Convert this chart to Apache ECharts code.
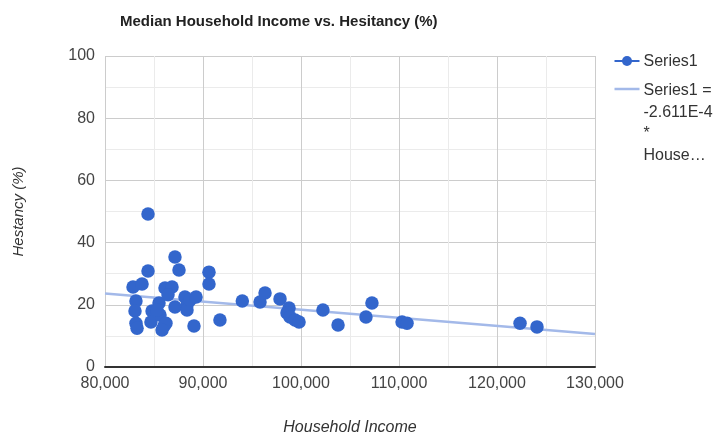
<!DOCTYPE html>
<html>
<head>
<meta charset="utf-8">
<script src="https://cdn.jsdelivr.net/npm/echarts@6/dist/echarts.min.js"></script>
<style>
  html, body { margin: 0; padding: 0; background: #fff; }
  #chart { width: 726px; height: 436px; }
</style>
</head>
<body>
<div id="chart"></div>
<script>
// Median household income (USD) per county
const incomes = [
  82860, 83780, 83160, 83060, 83160, 83270, 84390, 84390, 84800, 84690,
  85510, 85610, 86020, 86220, 85820, 86120, 86840, 86430, 87140, 87550,
  87140, 88160, 88370, 88370, 88670, 89080, 89290, 90610, 90610, 91730,
  94010, 95820, 96330, 97860, 98780, 98570, 98880, 99390, 99800, 102240,
  103780, 106630, 107240, 110310, 110820, 122350, 124080, 85310
];
// Vaccine hesitancy (%) for the same counties
const hesitancy = [
  25.7, 26.7, 21.2, 18.0, 14.1, 12.5, 49.2, 30.9, 18.0, 14.5,
  20.6, 16.7, 13.2, 14.1, 11.9, 25.4, 25.7, 23.2, 35.4, 31.2,
  19.3, 22.5, 19.9, 18.3, 21.5, 13.2, 22.5, 30.5, 26.7, 15.1,
  21.2, 20.9, 23.8, 21.9, 19.0, 17.4, 16.1, 15.1, 14.5, 18.3,
  13.5, 16.1, 20.6, 14.5, 14.1, 14.1, 12.9, 18.3
];
// Linear trendline end points (income, hesitancy)
const trendIncome = [80000, 130000];
const trendHesitancy = [23.6, 10.6];

const xTicks = [80000, 90000, 100000, 110000, 120000, 130000];
const yTicks = [0, 20, 40, 60, 80, 100];

const seriesName = 'Series1';
const trendLines = ['Series1 =', '-2.611E-4', '*', 'House\u2026'];

const points = incomes.map((x, i) => [x, hesitancy[i]]);
const trend = trendIncome.map((x, i) => [x, trendHesitancy[i]]);

const dotColor = '#3366cc';
const trendColor = '#a3b9e9';
const font = '"Liberation Sans", Arial, sans-serif';

const chart = echarts.init(document.getElementById('chart'), null, { renderer: 'canvas' });

chart.setOption({
  animation: false,
  backgroundColor: '#ffffff',
  title: {
    text: 'Median Household Income vs. Hesitancy (%)',
    left: 115,
    top: 9,
    textStyle: { fontFamily: font, fontSize: 15, fontWeight: 'bold', color: '#222' }
  },
  grid: { left: 105, right: 131, top: 56, bottom: 69, containLabel: false, outerBoundsMode: 'none' },
  xAxis: {
    type: 'value',
    min: xTicks[0],
    max: xTicks[xTicks.length - 1],
    interval: 10000,
    name: 'Household Income',
    nameLocation: 'middle',
    nameGap: 53,
    nameTextStyle: { fontFamily: font, fontSize: 16, fontStyle: 'italic', color: '#333' },
    axisLine: { show: true, onZero: false, lineStyle: { color: '#333', width: 2 } },
    axisTick: { show: false },
    axisLabel: {
      fontFamily: font, fontSize: 16, color: '#444', margin: 9,
      formatter: v => v.toLocaleString('en-US')
    },
    splitLine: { show: true, lineStyle: { color: '#cccccc', width: 1 } },
    minorTick: { show: false, splitNumber: 2 },
    minorSplitLine: { show: true, lineStyle: { color: '#ebebeb', width: 1 } }
  },
  yAxis: {
    type: 'value',
    min: yTicks[0],
    max: yTicks[yTicks.length - 1],
    interval: 20,
    name: 'Hestancy (%)',
    nameLocation: 'middle',
    nameGap: 79,
    nameTextStyle: { fontFamily: font, fontSize: 15, fontStyle: 'italic', color: '#333' },
    axisLine: { show: false },
    axisTick: { show: false },
    axisLabel: { fontFamily: font, fontSize: 16, color: '#444', margin: 10 },
    splitLine: { show: true, lineStyle: { color: '#cccccc', width: 1 } },
    minorTick: { show: false, splitNumber: 2 },
    minorSplitLine: { show: true, lineStyle: { color: '#ebebeb', width: 1 } }
  },
  series: [
    {
      name: 'trend',
      type: 'line',
      data: trend,
      symbol: 'none',
      lineStyle: { color: trendColor, width: 2.5 },
      z: 2,
      silent: true
    },
    {
      name: seriesName,
      type: 'scatter',
      data: points,
      symbol: 'circle',
      symbolSize: 13.5,
      itemStyle: { color: dotColor, opacity: 1 },
      z: 3
    }
  ],
  graphic: [
    {
      type: 'group',
      left: 612,
      top: 54,
      children: [
        { type: 'line', shape: { x1: 0, y1: 9, x2: 25, y2: 9 }, style: { stroke: dotColor, lineWidth: 2 } },
        { type: 'circle', shape: { cx: 12.5, cy: 9, r: 5 }, style: { fill: dotColor } },
        { type: 'text', x: 29, y: 2, style: { text: seriesName, font: '16px ' + font, fill: '#333' } },
        { type: 'line', shape: { x1: 0, y1: 37, x2: 25, y2: 37 }, style: { stroke: trendColor, lineWidth: 2.5 } },
        {
          type: 'text', x: 29, y: 28,
          style: { text: trendLines.join('\n'), font: '16px ' + font, fill: '#333', lineHeight: 21.5 }
        }
      ]
    }
  ]
});
</script>
</body>
</html>
